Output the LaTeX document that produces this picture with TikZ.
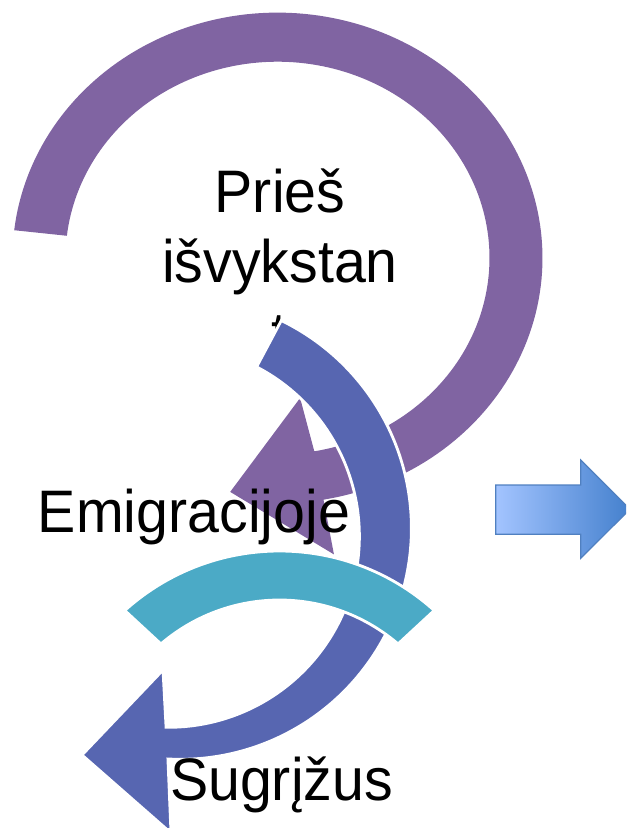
\documentclass[tikz,border=0pt]{standalone}
\usepackage{fontspec}
\setmainfont[FakeStretch=0.955]{Liberation Sans}
\definecolor{cPurple}{RGB}{128,100,162}
\definecolor{cBlue}{RGB}{87,102,177}
\definecolor{cTeal}{RGB}{75,170,198}
\definecolor{cArrowL}{RGB}{163,196,255}
\definecolor{cArrowR}{RGB}{68,128,205}
\definecolor{cArrowLine}{RGB}{80,128,192}
\begin{document}
\begin{tikzpicture}[x=0.5pt,y=-0.5pt,
  lbl/.style={anchor=base,inner sep=0pt,font=\fontsize{30}{36}\selectfont,text=black},
  bandp/.style={fill=cPurple},
  bandb/.style={fill=cBlue,draw=white,line width=1.4pt,line join=miter},
  bandt/.style={fill=cTeal,draw=white,line width=1.4pt,line join=miter},
  rarrow/.style={draw=cArrowLine,line width=0.6pt,left color=cArrowL,right color=cArrowR}]
\useasboundingbox (0,0) rectangle (626,828);
\clip (0,0) rectangle (626,828);

% purple circular arrow
\path[bandp] plot[domain=-173.5:80,samples=160] ({277.5+265.0*cos(\x)},{258+245.4*sin(\x)})
  -- (333.95,554.4) -- (230.2,491.9) -- (300.1,398.0) -- (314.3,451.3)
  -- plot[domain=80:-173.5,samples=160] ({277.5+212.0*cos(\x)},{258+196.3*sin(\x)}) -- cycle;

\node[lbl] (p1) at (280,213) {Prieš};
\node[lbl] (p2) at (280,283) {išvykstan};
\node[lbl] (p3) at (279,354) {t};

% blue circular arrow
\path[bandb] plot[domain=-64.1:93.1,samples=140] ({180.4+231*cos(\x)},{528.3+231*sin(\x)})
  -- (171,833) -- (82,755) -- (163,670)
  -- plot[domain=90.7:-62.5,samples=140] ({168.4+191*cos(\x)},{536.3+191*sin(\x)}) -- cycle;

\node[lbl] (emi) at (194,532) {Emigracijoje};

% teal arc
\path[bandt] plot[domain=-132.05:-47.95,samples=100] ({279.5+231*cos(\x)},{782+231*sin(\x)})
  -- plot[domain=-49.35:-130.65,samples=100] ({279.5+182*cos(\x)},{782+182*sin(\x)}) -- cycle;

\node[lbl] (sug) at (281.5,800) {Sugrįžus};

% right block arrow
\path[rarrow] (495.7,485) -- (580.7,485) -- (580.7,460) -- (630,509.2)
  -- (580.7,558.3) -- (580.7,534.3) -- (495.7,534.3) -- cycle;
\end{tikzpicture}
\end{document}
